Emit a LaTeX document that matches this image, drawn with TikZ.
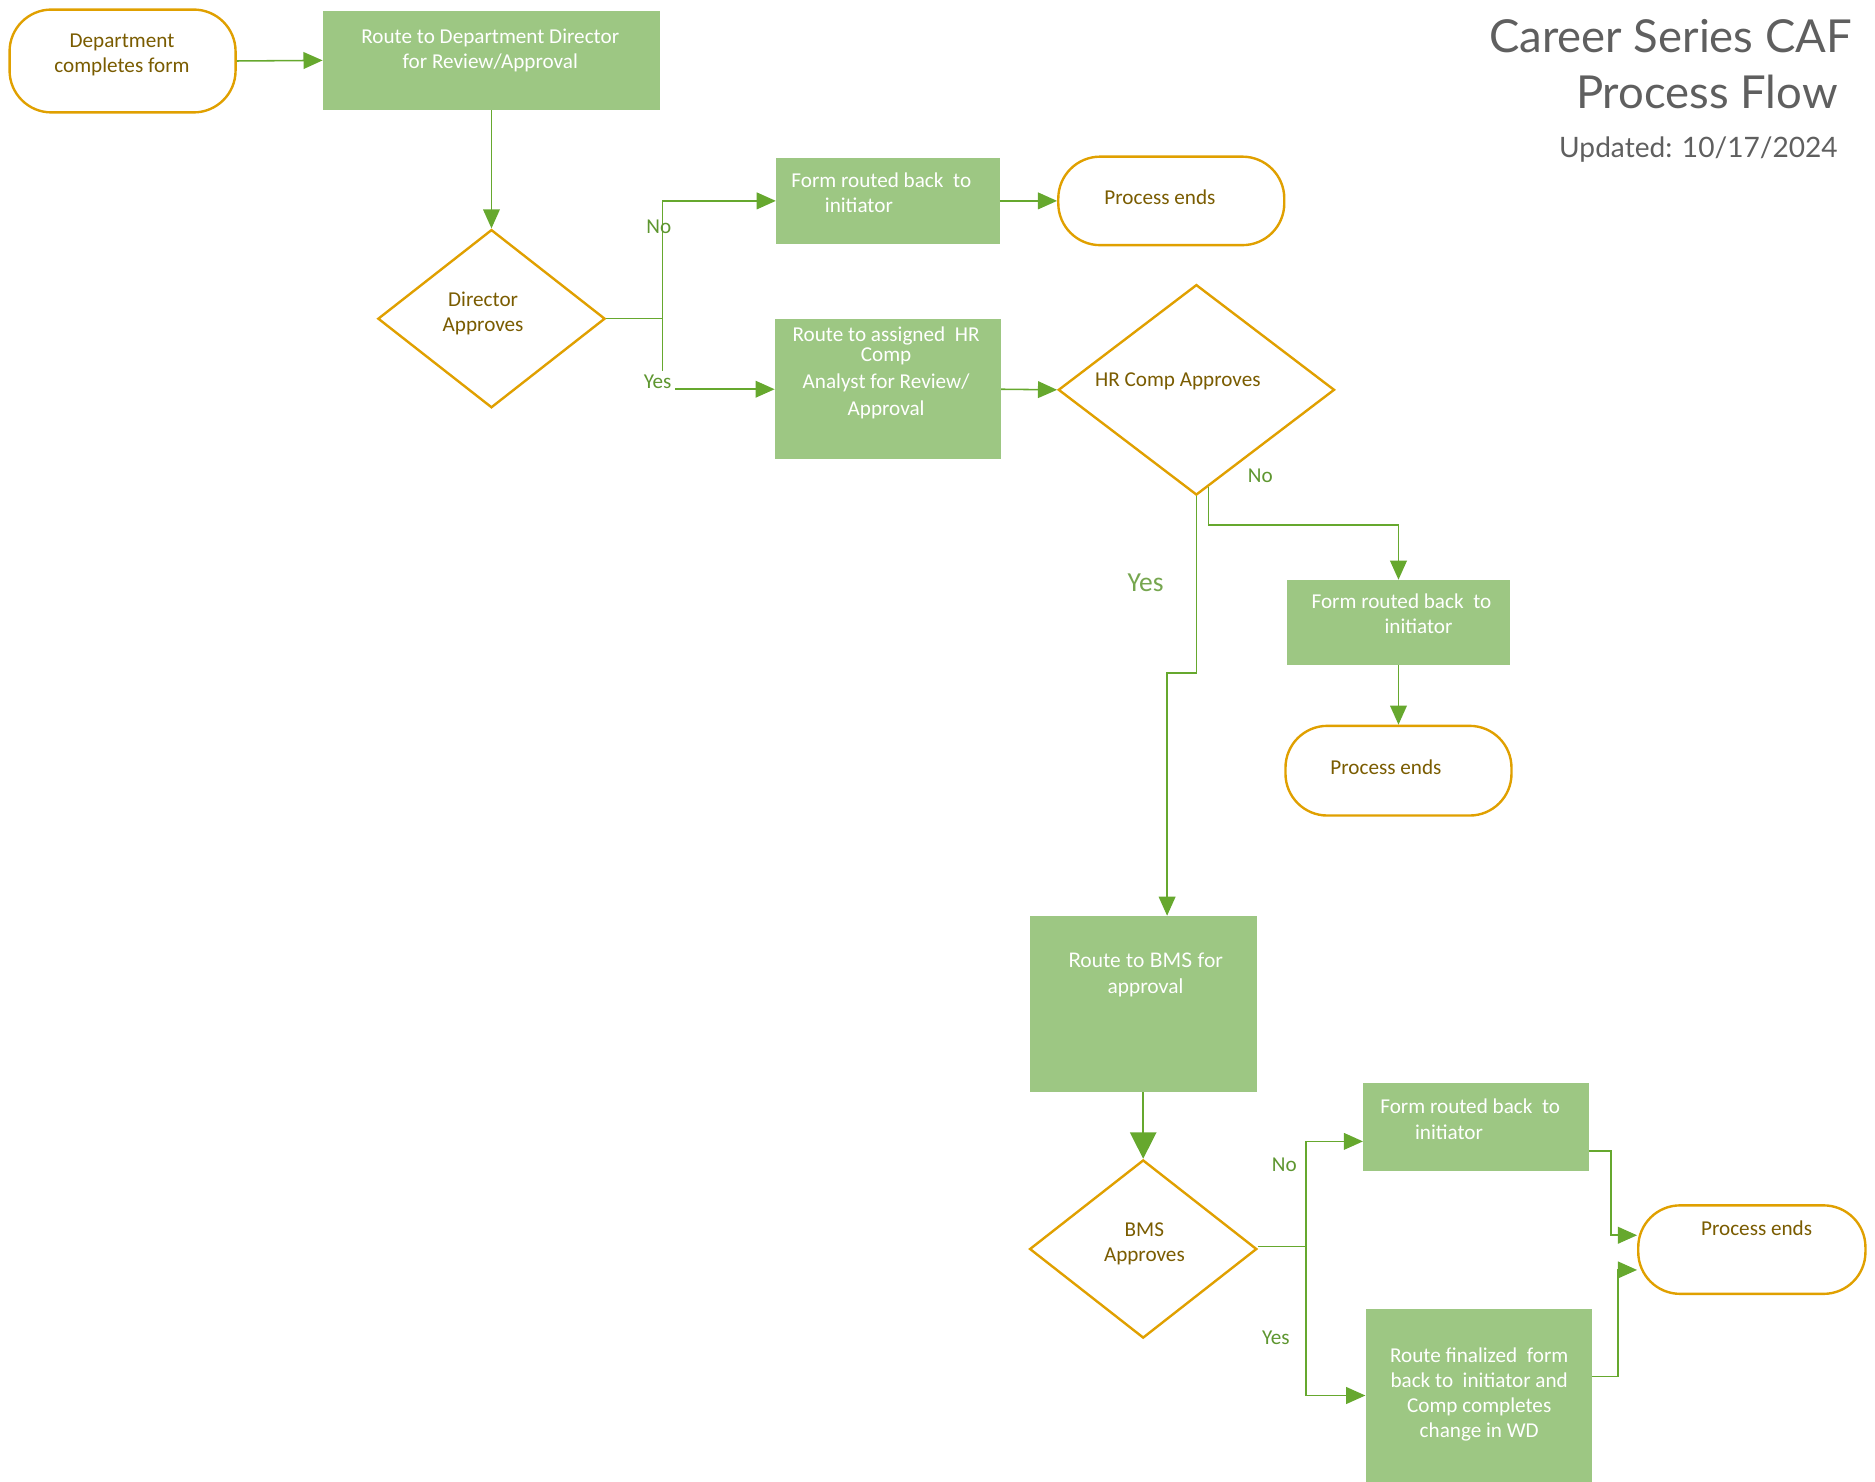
\documentclass[tikz,border=0pt]{standalone}
\usepackage{fontspec}
\setmainfont{Carlito}
\newfontfamily\titlefont{Lato}
\usetikzlibrary{arrows.meta,shapes.geometric}
\definecolor{boxgreen}{HTML}{9DC783}
\definecolor{linegreen}{HTML}{66A82E}
\definecolor{gold}{HTML}{E0A000}
\definecolor{olive}{HTML}{7A5C00}
\definecolor{labgreen}{HTML}{5E9630}
\definecolor{titlegray}{HTML}{5F5F5F}
\begin{document}
\begin{tikzpicture}[x=1pt,y=-1pt,
  procbox/.style={fill=boxgreen, draw=none, inner sep=0pt},
  termbox/.style={draw=gold, line width=2pt, fill=white, rounded corners=35pt, inner sep=0pt},
  decbox/.style={diamond, draw=gold, line width=2pt, fill=white, inner sep=0pt},
  wtext/.style={text=white, align=center, font=\fontsize{17.7}{21}\selectfont, inner sep=0pt},
  otext/.style={text=olive, align=center, font=\fontsize{17.7}{21}\selectfont, inner sep=0pt},
  lab/.style={text=labgreen, font=\fontsize{17.7}{21}\selectfont, inner sep=1pt},
  conn/.style={draw=linegreen, line width=1.3pt, -{Triangle[length=16pt,width=14pt]}},
  plain/.style={draw=linegreen, line width=1.3pt}
]
\useasboundingbox (0,0) rectangle (1568,1239);

% shapes
\node[termbox, minimum width=189pt, minimum height=86pt] (start) at (102.5,51) {};
\node[procbox, minimum width=282pt, minimum height=83pt] (dir) at (411,50.5) {};
\node[decbox, minimum width=190pt, minimum height=149pt] (dd) at (411,266.5) {};
\node[procbox, minimum width=187pt, minimum height=72pt] (back1) at (742.5,168) {};
\node[termbox, minimum width=189pt, minimum height=74pt] (end1) at (979.5,168) {};
\node[procbox, minimum width=189pt, minimum height=117pt] (hr) at (742.5,325.5) {};
\node[decbox, minimum width=231pt, minimum height=176pt] (hd) at (1000.5,326) {};
\node[procbox, minimum width=187pt, minimum height=71pt] (back2) at (1169.5,520.5) {};
\node[termbox, minimum width=189pt, minimum height=75pt] (end2) at (1169.5,644.5) {};
\node[procbox, minimum width=190pt, minimum height=147pt] (bms) at (956,839.5) {};
\node[decbox, minimum width=190pt, minimum height=149pt] (bd) at (956,1044.5) {};
\node[procbox, minimum width=189pt, minimum height=73pt] (back3) at (1234.5,942.5) {};
\node[procbox, minimum width=189pt, minimum height=144pt] (fin) at (1236.5,1167) {};
\node[termbox, minimum width=190pt, minimum height=74pt] (end3) at (1465,1045) {};

% texts
\node[otext] (startt) at (102,46) {Department\\completes form};
\node[wtext] (dirt) at (410,42) {Route to Department Director\\for Review/Approval};
\node[otext] (ddt) at (404,262) {Director\\Approves};
\node[wtext, align=left] (back1t) at (737,161) {Form routed back\ \ to\\\hspace*{28pt}initiator};
\node[otext] (end1t) at (970,165) {Process ends};
\node[wtext] (hrt) at (741,312) {Route to assigned\ \ HR\\[-4pt]Comp\\[1pt]Analyst for Review/\\[2pt]Approval};
\node[otext] (hdt) at (985,319) {HR Comp Approves};
\node[wtext, align=left] (back2t) at (1172,513.5) {Form routed back\ \ to\\\hspace*{61pt}initiator};
\node[otext] (end2t) at (1159,642) {Process ends};
\node[wtext, font=\titlefont\fontsize{16.8}{22}\selectfont] (bmst) at (958,815) {Route to BMS for\\approval};
\node[otext] (bdt) at (957,1040) {BMS\\Approves};
\node[wtext, align=left] (back3t) at (1229.5,936) {Form routed back\ \ to\\\hspace*{29pt}initiator};
\node[wtext] (fint) at (1237,1166) {Route finalized\ \ form\\back to\ \ initiator and\\Comp completes\\change in WD};
\node[otext] (end3t) at (1469,1027) {Process ends};

% title
\node[anchor=east, text=titlegray, font=\titlefont\fontsize{38}{44}\selectfont, inner sep=0pt] (title1) at (1549,30) {Career Series CAF};
\node[anchor=east, text=titlegray, font=\titlefont\fontsize{38}{44}\selectfont, inner sep=0pt] (title2) at (1537,77) {Process Flow};
\node[anchor=east, text=titlegray, font=\titlefont\fontsize{23.5}{28}\selectfont, inner sep=0pt] (title3) at (1537,125) {Updated: 10/17/2024};

% connectors
\draw[conn] (start.east) -- (dir.west);
\draw[conn] (dir.south) -- (dd.north);
\draw[plain] (dd.east) -- ++(47,0) coordinate (dj);
\draw[conn] (dj) |- (back1.west);
\draw[conn] (dj) |- (hr.west);
\draw[conn] (back1.east) -- (end1.west);
\draw[conn] (hr.east) -- (hd.west);
\draw[conn] ([shift={(10,-8)}]hd.south) -- ++(0,32) -| (back2.north);
\draw[conn] (hd.south) -- ++(0,148) -| ([xshift=20]bms.north);
\draw[conn] (back2.south) -- (end2.north);
\draw[draw=linegreen, line width=1.3pt, -{Triangle[length=22pt,width=22pt]}] (bms.south) -- (bd.north);
\draw[plain] ([yshift=2]bd.east) -- ++(40,0) coordinate (bj);
\draw[conn] (bj) |- ([yshift=-12]back3.west);
\draw[conn] (bj) |- (fin.west);
\draw[conn] ([yshift=-20]back3.east) -- ++(18,0) |- ([yshift=12]end3.west);
\draw[conn] ([yshift=16]fin.east) -- ++(22,0) |- ([yshift=-17]end3.west);

% labels
\node[lab] (no1) at (551,190) {No};
\node[lab, fill=white, inner sep=3pt] (yes1) at (550,319) {Yes};
\node[lab] (no2) at (1054,398) {No};
\node[lab, text=labgreen!85!white, font=\fontsize{23}{28}\selectfont] (yes2) at (958,487) {Yes};
\node[lab] (no3) at (1074,974) {No};
\node[lab] (yes3) at (1067,1119) {Yes};
\end{tikzpicture}
\end{document}
